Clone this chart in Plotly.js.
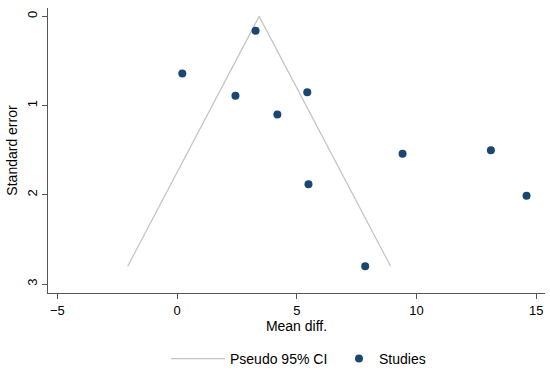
<!DOCTYPE html>
<html>
<head>
<meta charset="utf-8">
<script src="https://cdn.plot.ly/plotly-3.0.1.min.js"></script>
<style>html,body{margin:0;padding:0;background:#fff;}#chart{width:550px;height:372px;}</style>
</head>
<body>
<div id="chart"></div>
<script>
// Study estimates (mean difference) and standard errors
const studyMeanDiff = [3.28, 0.22, 2.44, 5.44, 4.19, 9.42, 13.11, 5.49, 14.6, 7.86];
const studySE       = [0.16, 0.64, 0.89, 0.85, 1.10, 1.54, 1.50, 1.88, 2.01, 2.80];
// Pseudo 95% confidence limits (funnel)
const funnelX = [-2.06, 3.43, 8.92];
const funnelY = [2.80, 0, 2.80];
const xTicks = [-5, 0, 5, 10, 15];
const yTicks = [0, 1, 2, 3];

const font = "Liberation Sans, Arial, sans-serif";
const traces = [
  {
    x: funnelX, y: funnelY, type: "scatter", mode: "lines",
    name: "Pseudo 95% CI", legend: "legend",
    line: {color: "#c3c3c3", width: 1.2},
    hoverinfo: "skip"
  },
  {
    x: studyMeanDiff, y: studySE, type: "scatter", mode: "markers",
    name: "Studies", legend: "legend2",
    marker: {color: "#1a476f", size: 8}
  }
];
const legendCommon = {
  orientation: "h", xref: "container", xanchor: "left",
  y: 1 - 359 / 372, yref: "container", yanchor: "middle",
  font: {family: font, size: 14, color: "#000"},
  bgcolor: "rgba(0,0,0,0)"
};
const layout = {
  width: 550, height: 372,
  margin: {l: 48, r: 5, t: 8, b: 79, autoexpand: false},
  paper_bgcolor: "#fff", plot_bgcolor: "#fff",
  font: {family: font, size: 13, color: "#000"},
  showlegend: true,
  legend: Object.assign({}, legendCommon, {x: 166 / 550, itemwidth: 54}),
  legend2: Object.assign({}, legendCommon, {x: 339 / 550, itemwidth: 30}),
  xaxis: {
    range: [-5.39, 15.37], automargin: false,
    tickvals: xTicks, ticktext: xTicks.map(v => v < 0 ? "\u2212" + Math.abs(v) : String(v)),
    ticks: "outside", ticklen: 5, tickcolor: "#555", tickwidth: 1,
    showline: true, linecolor: "#555", linewidth: 1,
    showgrid: false, zeroline: false,
    tickfont: {family: font, size: 13, color: "#000"},
    title: {text: "Mean diff.", font: {family: font, size: 14, color: "#000"}, standoff: 4}
  },
  yaxis: {
    range: [3.10, -0.094], automargin: false,
    tickvals: yTicks,
    tickangle: -90,
    ticks: "outside", ticklen: 5, tickcolor: "#555", tickwidth: 1,
    showline: true, linecolor: "#555", linewidth: 1,
    showgrid: false, zeroline: false,
    tickfont: {family: font, size: 13, color: "#000"},
    title: {text: "Standard error", font: {family: font, size: 14, color: "#000"}, standoff: 3}
  }
};
Plotly.newPlot("chart", traces, layout, {displayModeBar: false, staticPlot: true});
</script>
</body>
</html>
